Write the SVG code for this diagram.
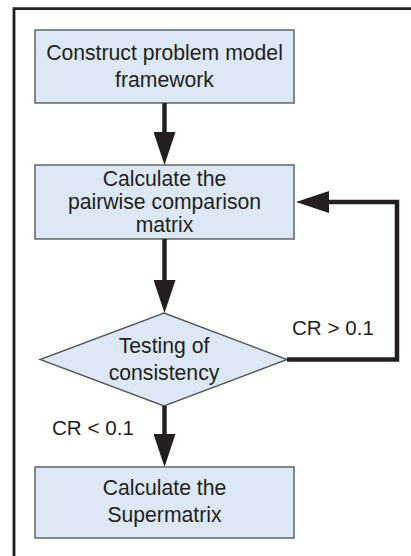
<svg xmlns="http://www.w3.org/2000/svg" width="411" height="556" viewBox="0 0 411 556">
  <style>
    .box { fill: #dce8f5; stroke: #58595b; stroke-width: 1.4; }
    .lbl { font-family: "Liberation Sans", Arial, Helvetica, sans-serif; font-size: 21.2px; fill: #231f20; text-anchor: middle; }
    .side { text-anchor: start; font-size: 20.6px; }
    .flow { fill: none; stroke: #231f20; stroke-width: 4.5; stroke-linejoin: miter; }
    .frame { fill: none; stroke: #231f20; stroke-width: 2.8; }
  </style>
  <defs>
    <marker id="head" markerUnits="userSpaceOnUse" markerWidth="34" markerHeight="22" refX="1" refY="11" orient="auto" viewBox="0 0 34 22">
      <path d="M0,0 L33,11 L0,22 Z" fill="#231f20"/>
    </marker>
  </defs>

  <!-- outer frame (top and left edges) -->
  <path class="frame" d="M14,556 V8.7 H411"/>

  <g id="construct">
    <rect class="box" x="35" y="30" width="259" height="73"/>
    <text class="lbl" x="164.5" y="60">Construct problem model</text>
    <text class="lbl" x="164.5" y="87">framework</text>
  </g>

  <g id="pairwise">
    <rect class="box" x="35" y="165" width="259" height="74"/>
    <text class="lbl" x="164.5" y="186">Calculate the</text>
    <text class="lbl" x="164.5" y="209">pairwise comparison</text>
    <text class="lbl" x="164.5" y="232">matrix</text>
  </g>

  <g id="consistency">
    <polygon class="box" points="164,313 287,359.5 164,406 40,359.5"/>
    <text class="lbl" x="164" y="353">Testing of</text>
    <text class="lbl" x="164" y="380">consistency</text>
  </g>

  <g id="supermatrix">
    <rect class="box" x="35" y="467" width="259" height="71"/>
    <text class="lbl" x="164.5" y="495">Calculate the</text>
    <text class="lbl" x="164.5" y="522">Supermatrix</text>
  </g>

  <g id="connectors">
    <line class="flow" x1="164.5" y1="103" x2="164.5" y2="133" marker-end="url(#head)"/>
    <line class="flow" x1="164.5" y1="239" x2="164.5" y2="281" marker-end="url(#head)"/>
    <line class="flow" x1="164.5" y1="406" x2="164.5" y2="435" marker-end="url(#head)"/>
    <path class="flow" d="M287,359.5 H397 V202 H328" marker-end="url(#head)"/>
    <text class="lbl side" x="292" y="335">CR &gt; 0.1</text>
    <text class="lbl side" x="52" y="435">CR &lt; 0.1</text>
  </g>
</svg>
